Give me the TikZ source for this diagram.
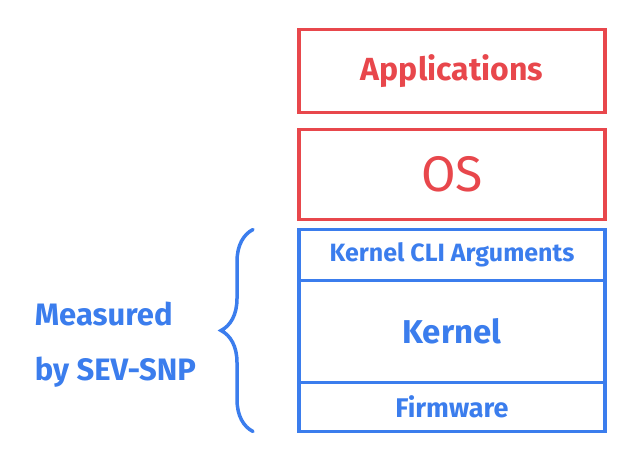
\documentclass[tikz,border=0pt]{standalone}
\usepackage{fontspec}
\setmainfont{Fira Sans}
\usepackage{tikz}
\usetikzlibrary{positioning,decorations.pathreplacing}

\definecolor{sketchred}{HTML}{E8474C}
\definecolor{sketchblue}{HTML}{3B7DED}

\begin{document}
\begin{tikzpicture}[x=1pt,y=-1pt,line width=3.5pt,node distance=17pt,
   layer/.style={draw,rectangle,minimum width=306pt,inner sep=0pt,outer sep=0pt},
   red layer/.style={layer,draw=sketchred,text=sketchred},
   blue layer/.style={layer,draw=sketchblue,text=sketchblue}]
   \useasboundingbox (0,0) rectangle (642,458);

   \node[red layer,minimum height=83pt,font=\fontsize{32}{36}\selectfont\bfseries] (apps) at (452,71) {Applications};
   \node[red layer,minimum height=90pt,font=\fontsize{50}{54}\selectfont] (os) [below=of apps] {OS};
   \node[blue layer,minimum height=51pt,font=\fontsize{25}{28}\selectfont\bfseries] (cli) [below=10pt of os] {Kernel CLI Arguments};
   \node[blue layer,minimum height=102pt,font=\fontsize{33}{36}\selectfont\bfseries] (kernel) [below=0pt of cli] {Kernel};
   \node[blue layer,minimum height=49pt,font=\fontsize{27}{30}\selectfont\bfseries] (fw) [below=0pt of kernel] {Firmware};

   \draw[sketchblue,line cap=round,decorate,decoration={brace,amplitude=32pt}]
      ([xshift=-46pt]fw.south west) -- ([xshift=-46pt]cli.north west)
      node[midway,left=52pt,yshift=-14pt,align=left,text=sketchblue,font=\fontsize{31}{55}\selectfont\bfseries] (measured) {Measured\\by SEV-SNP};
\end{tikzpicture}
\end{document}
